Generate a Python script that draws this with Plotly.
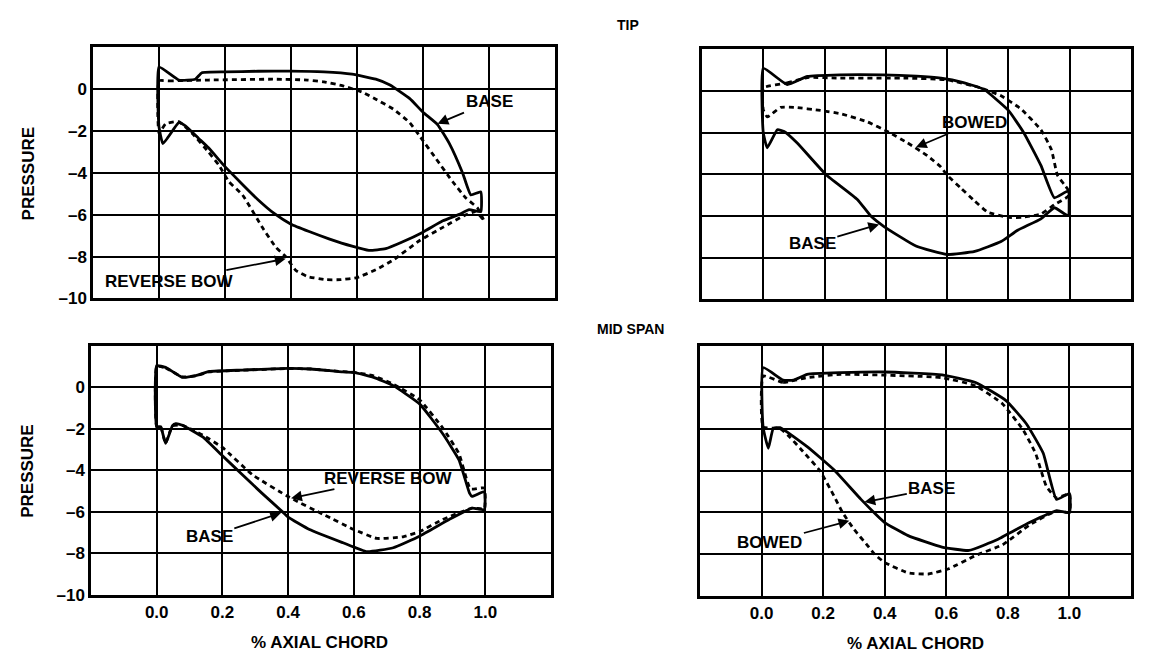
import plotly.graph_objects as go

W, H = 1151, 654

# ---------------- DATA ----------------
# Tip, left panel: BASE (solid) vs REVERSE BOW (dashed)
tl_base_up_x = [0.0, 0.06, 0.11, 0.13, 0.2, 0.3, 0.4, 0.5, 0.585, 0.657, 0.70, 0.76, 0.80, 0.844, 0.88, 0.92, 0.945, 0.975]
tl_base_up_y = [1.06, 0.44, 0.48, 0.79, 0.83, 0.86, 0.87, 0.83, 0.72, 0.48, 0.2, -0.45, -1.1, -1.69, -2.6, -4.0, -5.05, -4.9]
tl_base_lo_x = [0.0, 0.012, 0.06, 0.08, 0.12, 0.15, 0.2, 0.25, 0.3, 0.35, 0.4, 0.455, 0.515, 0.585, 0.636, 0.687, 0.737, 0.8, 0.86, 0.91, 0.94, 0.975]
tl_base_lo_y = [-1.8, -2.6, -1.6, -1.75, -2.35, -2.8, -3.7, -4.5, -5.28, -5.95, -6.45, -6.8, -7.15, -7.5, -7.7, -7.62, -7.3, -6.83, -6.29, -5.98, -5.75, -5.85]
tl_var_up_x = [0.0, 0.03, 0.15, 0.35, 0.45, 0.5, 0.555, 0.616, 0.66, 0.71, 0.76, 0.79, 0.84, 0.89, 0.93, 0.965, 0.985]
tl_var_up_y = [0.4, 0.4, 0.44, 0.48, 0.44, 0.35, 0.17, -0.14, -0.5, -0.95, -1.6, -2.24, -3.33, -4.42, -5.2, -5.67, -6.29]
tl_var_lo_x = [0.0, 0.02, 0.06, 0.1, 0.15, 0.182, 0.212, 0.253, 0.313, 0.354, 0.384, 0.414, 0.45, 0.505, 0.55, 0.6, 0.657, 0.71, 0.79, 0.86, 0.93, 0.96, 0.985]
tl_var_lo_y = [-2.1, -1.65, -1.55, -2.1, -3.0, -3.64, -4.42, -5.05, -6.6, -7.55, -8.0, -8.65, -8.95, -9.1, -9.1, -9.0, -8.63, -8.16, -7.23, -6.6, -6.0, -5.85, -6.29]

# Tip, right panel: BASE (solid) vs BOWED (dashed)
tr_base_up_x = [0.0, 0.078, 0.144, 0.25, 0.39, 0.5, 0.58, 0.65, 0.72, 0.80, 0.85, 0.906, 0.95, 0.995]
tr_base_up_y = [1.09, 0.31, 0.7, 0.78, 0.78, 0.72, 0.62, 0.42, 0.08, -0.93, -2.0, -3.57, -5.12, -4.8]
tr_base_lo_x = [0.0, 0.013, 0.046, 0.068, 0.11, 0.204, 0.307, 0.351, 0.394, 0.5, 0.6, 0.69, 0.776, 0.83, 0.906, 0.95, 0.995]
tr_base_lo_y = [-2.0, -2.72, -1.86, -1.94, -2.48, -4.0, -5.2, -6.0, -6.5, -7.45, -7.84, -7.69, -7.22, -6.68, -6.13, -5.6, -5.98]
tr_var_up_x = [0.0, 0.078, 0.144, 0.25, 0.47, 0.6, 0.71, 0.776, 0.84, 0.906, 0.94, 0.96, 0.983, 0.995]
tr_var_up_y = [0.15, 0.39, 0.65, 0.62, 0.62, 0.54, 0.15, -0.23, -0.85, -1.86, -2.8, -4.04, -4.5, -4.75]
tr_var_lo_x = [0.0, 0.013, 0.057, 0.1, 0.187, 0.253, 0.34, 0.405, 0.47, 0.536, 0.58, 0.6, 0.645, 0.69, 0.733, 0.8, 0.844, 0.906, 0.95, 0.995]
tr_var_lo_y = [-0.9, -1.24, -0.78, -0.78, -0.93, -1.09, -1.48, -1.94, -2.48, -3.11, -3.65, -4.04, -4.66, -5.28, -5.82, -6.06, -6.06, -5.9, -5.45, -5.05]

# Mid span, left panel: BASE (solid) vs REVERSE BOW (dashed)
bl_base_up_x = [0.0, 0.027, 0.078, 0.119, 0.16, 0.26, 0.4, 0.47, 0.567, 0.6, 0.66, 0.72, 0.8, 0.87, 0.92, 0.952, 0.96, 0.997]
bl_base_up_y = [1.04, 0.96, 0.48, 0.56, 0.76, 0.83, 0.91, 0.88, 0.74, 0.72, 0.48, 0.08, -0.8, -2.23, -3.5, -5.1, -5.26, -5.02]
bl_base_lo_x = [0.0, 0.012, 0.027, 0.048, 0.058, 0.078, 0.14, 0.2, 0.26, 0.32, 0.383, 0.4, 0.465, 0.567, 0.64, 0.72, 0.8, 0.89, 0.96, 0.997]
bl_base_lo_y = [-1.9, -1.9, -2.7, -1.85, -1.75, -1.83, -2.39, -3.3, -4.2, -5.1, -6.0, -6.25, -6.85, -7.49, -7.92, -7.73, -7.17, -6.37, -5.82, -5.9]
bl_var_up_x = [0.0, 0.027, 0.078, 0.119, 0.16, 0.26, 0.4, 0.47, 0.567, 0.6, 0.66, 0.72, 0.8, 0.87, 0.92, 0.955, 0.997]
bl_var_up_y = [1.0, 0.93, 0.5, 0.55, 0.74, 0.82, 0.9, 0.88, 0.75, 0.72, 0.55, 0.15, -0.6, -1.95, -3.2, -4.9, -4.85]
bl_var_lo_x = [0.0, 0.012, 0.027, 0.048, 0.078, 0.14, 0.2, 0.292, 0.404, 0.51, 0.6, 0.67, 0.75, 0.8, 0.87, 0.96, 0.997]
bl_var_lo_y = [-1.9, -1.9, -2.7, -1.85, -1.83, -2.3, -2.9, -4.22, -5.3, -6.15, -6.85, -7.28, -7.2, -6.95, -6.37, -5.82, -5.85]

# Mid span, right panel: BASE (solid) vs BOWED (dashed)
br_base_up_x = [0.005, 0.07, 0.104, 0.148, 0.257, 0.4, 0.586, 0.695, 0.794, 0.86, 0.915, 0.958, 1.0]
br_base_up_y = [0.95, 0.35, 0.35, 0.63, 0.71, 0.74, 0.6, 0.24, -0.63, -1.74, -3.16, -5.37, -5.09]
br_base_lo_x = [0.005, 0.022, 0.038, 0.06, 0.148, 0.235, 0.323, 0.4, 0.476, 0.586, 0.674, 0.77, 0.87, 0.958, 1.0]
br_base_lo_y = [-1.9, -2.92, -1.97, -1.93, -2.84, -3.95, -5.37, -6.48, -7.11, -7.66, -7.82, -7.27, -6.48, -5.92, -6.0]
br_var_up_x = [0.005, 0.07, 0.148, 0.257, 0.586, 0.695, 0.783, 0.85, 0.89, 0.925, 0.958, 1.0]
br_var_up_y = [0.55, 0.24, 0.47, 0.63, 0.47, 0.08, -0.79, -2.05, -3.16, -4.74, -5.3, -5.1]
br_var_lo_x = [0.005, 0.06, 0.093, 0.13, 0.19, 0.235, 0.263, 0.3, 0.345, 0.367, 0.4, 0.476, 0.542, 0.608, 0.695, 0.783, 0.87, 0.958, 1.0]
br_var_lo_y = [-1.9, -1.97, -2.4, -3.0, -4.0, -5.2, -6.0, -6.8, -7.6, -8.0, -8.4, -8.9, -8.95, -8.7, -8.06, -7.55, -6.6, -5.92, -6.0]

x_ticks = [0.0, 0.2, 0.4, 0.6, 0.8, 1.0]
x_ticktext = ["0.0", "0.2", "0.4", "0.6", "0.8", "1.0"]
y_ticks = [0, -2, -4, -6, -8, -10]
y_ticktext = ["0", "\u20132", "\u20134", "\u20136", "\u20138", "\u201310"]

row_titles = ["TIP", "MID SPAN"]
y_title = "PRESSURE"
x_title = "% AXIAL CHORD"

# ---------------- FIGURE ----------------
FONT = "Liberation Sans"


def loop(ux, uy, lx, ly):
    xs = list(ux) + list(reversed(lx)) + [ux[0]]
    ys = list(uy) + list(reversed(ly)) + [uy[0]]
    return xs, ys


# panel: name -> (xaxis id, yaxis id, x-domain px, y-domain px, show x labels, show y labels)
panels = {
    "tl": ("x", "y", (85, 547), (40, 295), False, True),
    "tr": ("x2", "y2", (694, 1123), (42, 296), False, False),
    "bl": ("x3", "y3", (83, 543), (343, 596), True, True),
    "br": ("x4", "y4", (692, 1123), (343, 597), True, False),
}

curves = {
    "tl": [(tl_base_up_x, tl_base_up_y, tl_base_lo_x, tl_base_lo_y, "solid"),
           (tl_var_up_x, tl_var_up_y, tl_var_lo_x, tl_var_lo_y, "dash")],
    "tr": [(tr_base_up_x, tr_base_up_y, tr_base_lo_x, tr_base_lo_y, "solid"),
           (tr_var_up_x, tr_var_up_y, tr_var_lo_x, tr_var_lo_y, "dash")],
    "bl": [(bl_base_up_x, bl_base_up_y, bl_base_lo_x, bl_base_lo_y, "solid"),
           (bl_var_up_x, bl_var_up_y, bl_var_lo_x, bl_var_lo_y, "dash")],
    "br": [(br_base_up_x, br_base_up_y, br_base_lo_x, br_base_lo_y, "solid"),
           (br_var_up_x, br_var_up_y, br_var_lo_x, br_var_lo_y, "dash")],
}

fig = go.Figure()
layout = dict(width=W, height=H, margin=dict(l=0, r=0, t=0, b=0),
              paper_bgcolor="white", plot_bgcolor="white", showlegend=False,
              font=dict(family=FONT, color="black"))

tickfont = dict(family=FONT, size=17, color="black", weight="bold")

for key, (xa, ya, (x0, x1), (y0, y1), showx, showy) in panels.items():
    for ux, uy, lx, ly, style in curves[key]:
        xs, ys = loop(ux, uy, lx, ly)
        fig.add_trace(go.Scatter(
            x=xs, y=ys, xaxis=xa, yaxis=ya, mode="lines",
            line=dict(color="black", width=2.8,
                      dash="solid" if style == "solid" else "5px,4px",
                      shape="spline", smoothing=0.4),
            hoverinfo="skip"))
    xname = "xaxis" if xa == "x" else "xaxis" + xa[1:]
    yname = "yaxis" if ya == "y" else "yaxis" + ya[1:]
    layout[xname] = dict(
        domain=[x0 / W, x1 / W], range=[-0.2, 1.2], anchor=ya,
        tickmode="array", tickvals=x_ticks, ticktext=x_ticktext,
        showticklabels=showx, ticks="", tickfont=tickfont,
        showgrid=True, gridcolor="black", gridwidth=2,
        showline=True, mirror=True, linecolor="black", linewidth=2.5,
        zeroline=False, fixedrange=True)
    layout[yname] = dict(
        domain=[1 - y1 / H, 1 - y0 / H], range=[-10, 2], anchor=xa,
        tickmode="array", tickvals=y_ticks, ticktext=y_ticktext,
        showticklabels=showy, ticks="", tickfont=tickfont,
        showgrid=True, gridcolor="black", gridwidth=2,
        showline=True, mirror=True, linecolor="black", linewidth=2.5,
        zeroline=False, fixedrange=True)

fig.update_layout(**layout)

ann = []
labfont = dict(family=FONT, size=17, color="black", weight="bold")


def label(text, xa, ya, tx, ty, px, py):
    ann.append(dict(text=text, xref=xa, yref=ya, axref=xa, ayref=ya,
                    x=px, y=py, ax=tx, ay=ty, showarrow=True,
                    arrowhead=2, arrowsize=1.2, arrowwidth=1.8, arrowcolor="black",
                    font=labfont, xanchor="center", yanchor="middle"))


label("BASE", "x", "y", 1.0, -0.61, 0.844, -1.65)
label("REVERSE BOW", "x", "y", 0.03, -9.17, 0.384, -8.1)
label("BOWED", "x2", "y2", 0.688, -1.52, 0.498, -2.7)
label("BASE", "x2", "y2", 0.16, -7.33, 0.378, -6.4)
label("REVERSE BOW", "x3", "y3", 0.703, -4.38, 0.409, -5.34)
label("BASE", "x3", "y3", 0.16, -7.2, 0.378, -6.05)
label("BASE", "x4", "y4", 0.553, -4.87, 0.334, -5.5)
label("BOWED", "x4", "y4", 0.027, -7.42, 0.285, -6.4)


def paper_text(text, px, py, size, angle=0):
    ann.append(dict(text=text, xref="paper", yref="paper", x=px / W, y=1 - py / H,
                    showarrow=False, textangle=angle, xanchor="center", yanchor="middle",
                    font=dict(family=FONT, size=size, color="black", weight="bold")))


paper_text(row_titles[0], 620, 17, 14)
paper_text(row_titles[1], 622, 326, 14)
paper_text(y_title, 20, 168, 17, -90)
paper_text(y_title, 20, 470, 17, -90)
paper_text(x_title, 311, 644, 17)
paper_text(x_title, 907, 645, 17)

fig.update_layout(annotations=ann)
fig.write_html("out.html")
